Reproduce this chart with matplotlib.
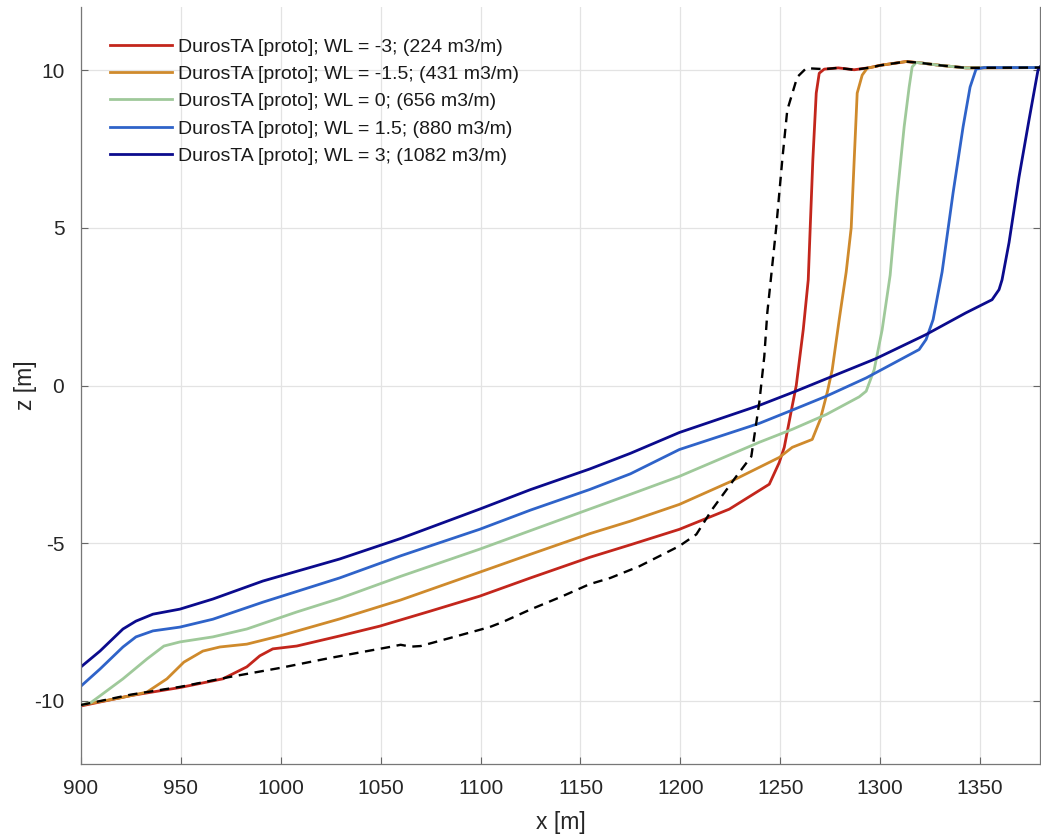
import matplotlib
matplotlib.use("Agg")
import matplotlib.pyplot as plt

plt.rcParams['font.family'] = ['Liberation Sans', 'DejaVu Sans']
plt.rcParams['axes.unicode_minus'] = False

# Initial profile (dashed)
x_init = [900, 925, 950, 974.5, 1000, 1024.5, 1045, 1054.5, 1060, 1065, 1070, 1085, 1104.5, 1111,
          1125, 1141, 1154.5, 1165, 1179.5, 1199.5, 1208, 1216, 1228, 1235.5, 1239.5, 1242,
          1243.5, 1245, 1248, 1251, 1253.5, 1258.5, 1263, 1272, 1279, 1287, 1295, 1300, 1313,
          1320, 1330, 1343, 1380]
z_init = [-10.13, -9.8, -9.55, -9.24, -8.95, -8.64, -8.4, -8.29, -8.22, -8.28, -8.26, -8.0, -7.66, -7.5,
          -7.1, -6.68, -6.3, -6.1, -5.73, -5.09, -4.72, -3.92, -2.88, -2.25, -0.54, 0.92,
          2.3, 3.2, 5.03, 7.15, 8.73, 9.78, 10.06, 10.03, 10.07, 10.01, 10.08, 10.15, 10.27,
          10.23, 10.15, 10.07, 10.08]

# Crest shared by post-storm profiles
x_crest = [1279, 1287, 1295, 1300, 1313, 1320, 1330, 1343, 1380]
z_crest = [10.07, 10.01, 10.08, 10.15, 10.27, 10.23, 10.15, 10.07, 10.08]

x_wl_m3 = [900, 925, 950, 971, 983, 989.5, 996, 1008, 1029.5, 1049.5, 1075, 1099.5, 1125, 1154.5,
           1175, 1199.5, 1224.5, 1244.5, 1249.5, 1252, 1255.3, 1258, 1261.5, 1264, 1265, 1266.3,
           1268, 1269.5, 1272] + x_crest
z_wl_m3 = [-10.16, -9.83, -9.57, -9.3, -8.92, -8.57, -8.35, -8.26, -7.94, -7.63, -7.15, -6.68, -6.1, -5.45,
           -5.05, -4.56, -3.92, -3.13, -2.44, -1.96, -0.87, 0.0, 1.77, 3.35, 5.03, 7.15,
           9.27, 9.9, 10.03] + z_crest

x_wl_m15 = [900, 920, 933, 943, 951.5, 961, 969.5, 983, 999.5, 1029.5, 1060, 1099.5, 1125, 1154.5,
            1175, 1199.5, 1225, 1249.5, 1256, 1266, 1270, 1273.5, 1276, 1279.5, 1283, 1285.5,
            1287, 1288.5, 1291, 1293.5] + x_crest[2:]
z_wl_m15 = [-10.13, -9.9, -9.72, -9.3, -8.77, -8.42, -8.29, -8.2, -7.94, -7.4, -6.8, -5.92, -5.35, -4.7,
            -4.3, -3.77, -3.05, -2.28, -1.96, -1.71, -1.08, -0.22, 0.5, 2.09, 3.6, 5.0,
            7.15, 9.27, 9.84, 10.06] + z_crest[2:]

x_wl_0 = [900, 905, 909.5, 921, 933, 941.5, 949.5, 966, 983, 1008, 1029.5, 1060, 1099.5, 1125, 1154.5,
          1175, 1199.5, 1219.5, 1239.5, 1256, 1273, 1289.5, 1293, 1297, 1301, 1305, 1308.5, 1312,
          1314.5, 1316, 1318] + x_crest[5:]
z_wl_0 = [-10.13, -10.05, -9.84, -9.3, -8.67, -8.26, -8.13, -7.97, -7.72, -7.18, -6.75, -6.05, -5.19, -4.6, -3.92,
          -3.45, -2.88, -2.34, -1.8, -1.39, -0.92, -0.36, -0.18, 0.5, 1.77, 3.5, 6.0, 8.2,
          9.46, 10.1, 10.24] + z_crest[5:]

x_wl_15 = [900, 909.5, 921, 927.5, 936, 949.5, 966, 991, 1029.5, 1060, 1099.5, 1125, 1154.5, 1175,
           1199.5, 1239.5, 1256, 1273, 1293, 1319.5, 1323, 1326.5, 1331, 1336.5, 1341.5, 1345,
           1348, 1352, 1380]
z_wl_15 = [-9.53, -8.99, -8.29, -7.97, -7.78, -7.66, -7.41, -6.87, -6.1, -5.4, -4.56, -3.95, -3.3, -2.8,
           -2.03, -1.2, -0.78, -0.34, 0.24, 1.14, 1.46, 2.09, 3.6, 6.11, 8.2, 9.46,
           10.03, 10.08, 10.08]

x_wl_3 = [900, 909.5, 921, 927.5, 936, 949.5, 966, 991, 1029.5, 1060, 1099.5, 1125, 1154.5, 1175,
          1199.5, 1239.5, 1257.8, 1276, 1297.8, 1322.8, 1342.8, 1356, 1359.5, 1361, 1364.5,
          1369.5, 1374.5, 1379, 1380]
z_wl_3 = [-8.92, -8.42, -7.72, -7.47, -7.25, -7.09, -6.77, -6.2, -5.5, -4.85, -3.92, -3.3, -2.65, -2.15,
          -1.49, -0.63, -0.18, 0.29, 0.85, 1.61, 2.3, 2.72, 3.04, 3.35, 4.53,
          6.61, 8.42, 10.0, 10.1]

labels = ["DurosTA [proto]; WL = -3; (224 m3/m)",
          "DurosTA [proto]; WL = -1.5; (431 m3/m)",
          "DurosTA [proto]; WL = 0; (656 m3/m)",
          "DurosTA [proto]; WL = 1.5; (880 m3/m)",
          "DurosTA [proto]; WL = 3; (1082 m3/m)"]
colors = ['#c3261c', '#cf8a2c', '#9fc99a', '#2f63c9', '#0b0b8d']

xticks = [900, 950, 1000, 1050, 1100, 1150, 1200, 1250, 1300, 1350]
yticks = [-10, -5, 0, 5, 10]

fig = plt.figure(figsize=(10.41, 8.35), dpi=100)
ax = fig.add_axes([81/1041, 1-764/835, 959/1041, 757/835])

series = [(x_wl_m3, z_wl_m3), (x_wl_m15, z_wl_m15), (x_wl_0, z_wl_0), (x_wl_15, z_wl_15), (x_wl_3, z_wl_3)]
handles = []
for (xs, zs), c, lab in zip(series, colors, labels):
    h, = ax.plot(xs, zs, color=c, lw=2.0, label=lab, solid_joinstyle='round')
    handles.append(h)
ax.plot(x_init, z_init, color='black', lw=1.7, linestyle=(0, (4, 2.8)), zorder=5)

ax.set_xlim(900, 1380)
ax.set_ylim(-12, 12)
ax.set_xticks(xticks)
ax.set_yticks(yticks)
ax.grid(True, color='#e3e3e3', lw=0.9)
ax.set_axisbelow(True)
ax.tick_params(direction='in', length=5, width=0.8, colors='#666666', labelcolor='#262626',
               labelsize=15, top=False, right=True)
ax.tick_params(axis='x', pad=11)
ax.tick_params(axis='y', pad=12)
for s in ax.spines.values():
    s.set_color('#777777')
    s.set_linewidth(0.9)
ax.spines['top'].set_visible(False)

ax.set_xlabel('x [m]', fontsize=16.5, color='#262626', labelpad=9)
ax.set_ylabel('z [m]', fontsize=16.5, color='#262626', labelpad=-2)

leg = ax.legend(handles=handles, loc='upper left', bbox_to_anchor=((110-81)/959, 1-(38-7)/757),
                frameon=False, fontsize=14, handlelength=3.2, handletextpad=0.3,
                labelspacing=0.5, borderpad=0, borderaxespad=0)
for t in leg.get_texts():
    t.set_color('#1a1a1a')

fig.savefig('out.png', dpi=100)
